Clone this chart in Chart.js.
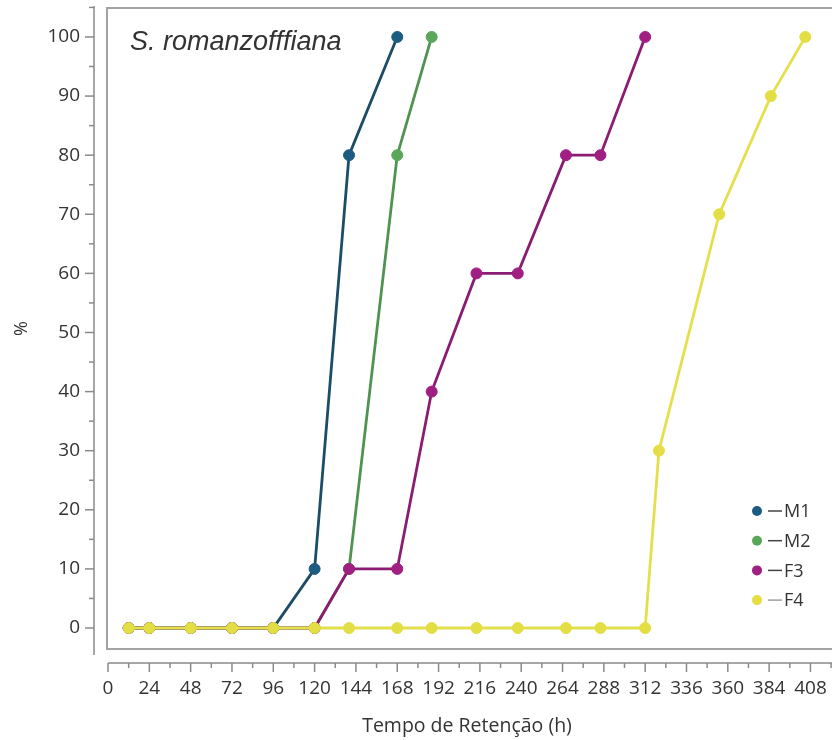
<!DOCTYPE html>
<html>
<head>
<meta charset="utf-8">
<script src="https://cdn.jsdelivr.net/npm/chart.js@4.4.1/dist/chart.umd.min.js"></script>
<style>
html,body{margin:0;padding:0;background:#fff;overflow:hidden;}
#wrap{width:860px;height:740px;}
</style>
</head>
<body>
<div id="wrap"><canvas id="retentionChart" width="860" height="740"></canvas></div>
<script>
/* ===========================
   DATA
=========================== */
const hours = [12,24,48,72,96,120,140,168,188,214,238,266,286,312,320,355,385,405];

const seriesNames = ["M1","M2","F3","F4"];

const m1 = [0,0,0,0,0,10,80,100];
const m2 = [0,0,0,0,0,0,10,80,100];
const f3 = [0,0,0,0,0,0,10,10,40,60,60,80,80,100];
const f4 = [0,0,0,0,0,0,0,0,0,0,0,0,0,0,30,70,90,100];

const xTickValues = [0,24,48,72,96,120,144,168,192,216,240,264,288,312,336,360,384,408];
const yTickValues = [0,10,20,30,40,50,60,70,80,90,100];

const chartTitle = "S. romanzofffiana";
const xTitle = "Tempo de Retenção (h)";
const yTitle = "%";

/* ===========================
   STYLE
=========================== */
const lineColors  = ["#1d4d66","#4f9350","#8c1c73","#e4e04c"];
const pointColors = ["#1b5c80","#5aa75a","#a01f82","#e2de44"];
const FONT = "'Open Sans', 'Noto Sans', sans-serif";

function toPoints(values){
    return values.map((v,i) => ({x:hours[i], y:v}));
}

const allSeries = [m1,m2,f3,f4];

/* ===========================
   FRAME + AXES PLUGIN
=========================== */
const frameAxes = {
    id:"frameAxes",
    beforeDatasetsDraw(chart){
        const ctx = chart.ctx;
        const area = chart.chartArea;
        const xs = chart.scales.x;
        const ys = chart.scales.y;
        const right = chart.width;

        ctx.save();

        // plot frame (no right edge, it runs off the picture)
        ctx.strokeStyle = "#a3a3a3";
        ctx.lineWidth = 2;
        ctx.beginPath();
        ctx.moveTo(right, area.top);
        ctx.lineTo(area.left - 1, area.top);
        ctx.lineTo(area.left - 1, area.bottom);
        ctx.lineTo(right, area.bottom);
        ctx.stroke();

        // y axis
        ctx.strokeStyle = "#8a8a8a";
        ctx.lineWidth = 1.5;
        const yAxisX = area.left - 14;
        ctx.beginPath();
        ctx.moveTo(yAxisX, area.top - 2);
        ctx.lineTo(yAxisX, area.bottom + 6);
        ctx.stroke();
        for(let v = -5; v <= 105; v += 5){
            const py = ys.getPixelForValue(v);
            if(py < area.top - 2 || py > area.bottom + 6) continue;
            const len = (v % 10 === 0) ? 9 : 5;
            ctx.beginPath();
            ctx.moveTo(yAxisX - len, py);
            ctx.lineTo(yAxisX, py);
            ctx.stroke();
        }

        // x axis
        const xAxisY = area.bottom + 14;
        ctx.beginPath();
        ctx.moveTo(xs.getPixelForValue(0), xAxisY);
        ctx.lineTo(right, xAxisY);
        ctx.stroke();
        for(let v = 0; v <= 432; v += 12){
            const px = xs.getPixelForValue(v);
            const len = (v % 24 === 0) ? 9 : 5;
            ctx.beginPath();
            ctx.moveTo(px, xAxisY);
            ctx.lineTo(px, xAxisY + len);
            ctx.stroke();
        }

        ctx.restore();
    },
    afterDraw(chart){
        const ctx = chart.ctx;
        ctx.save();

        // species name
        ctx.fillStyle = "#333";
        ctx.font = "italic 27px 'Liberation Sans', Arial, sans-serif";
        ctx.textAlign = "left";
        ctx.textBaseline = "alphabetic";
        ctx.fillText(chartTitle, 130, 50);

        // x axis title (sits a little left of the plot centre)
        ctx.font = "19.5px " + FONT;
        ctx.textAlign = "center";
        ctx.textBaseline = "middle";
        ctx.fillText(xTitle, 467, 726);

        // legend
        ctx.font = "18px " + FONT;
        ctx.textAlign = "left";
        chart.data.datasets.forEach((ds,i) => {
            const y = 511 + i * 29.7;
            ctx.fillStyle = ds.pointBackgroundColor;
            ctx.beginPath();
            ctx.arc(757, y, 5, 0, Math.PI * 2);
            ctx.fill();
            ctx.strokeStyle = i === 3 ? "#a0a0a0" : "#444";
            ctx.lineWidth = 1.5;
            ctx.beginPath();
            ctx.moveTo(768, y);
            ctx.lineTo(782, y);
            ctx.stroke();
            ctx.fillStyle = "#333";
            ctx.fillText(ds.label, 784, y + 1);
        });

        ctx.restore();
    }
};

/* ===========================
   CHART
=========================== */
const canvas = document.getElementById("retentionChart");

const retentionChart = new Chart(canvas,{

    type:"line",

    data:{
        datasets: allSeries.map((values,i) => ({
            label:seriesNames[i],
            data:toPoints(values),
            borderColor:lineColors[i],
            backgroundColor:pointColors[i],
            pointBackgroundColor:pointColors[i],
            pointBorderColor:pointColors[i],
            pointRadius:5.5,
            pointBorderWidth:1,
            borderWidth:2.8,
            tension:0,
            fill:false,
            order:3 - i
        }))
    },

    options:{
        responsive:false,
        animation:false,
        layout:{
            padding:{ top:8, left:0, right:0, bottom:0 }
        },
        plugins:{
            legend:{ display:false },
            tooltip:{ enabled:false }
        },
        scales:{
            x:{
                type:"linear",
                min:0,
                max:433,
                afterFit(scale){
                    scale.height = 91;
                    scale.paddingLeft = 0;
                    scale.paddingRight = 0;
                },
                afterBuildTicks(scale){ scale.ticks = xTickValues.map(v => ({value:v})); },
                grid:{ display:false, drawTicks:false },
                border:{ display:false },
                ticks:{
                    autoSkip:false,
                    maxRotation:0,
                    padding:28,
                    color:"#333",
                    font:{ family:FONT, size:19 }
                },
                title:{ display:false }
            },
            y:{
                min:-3.55,
                max:104.9,
                afterFit(scale){
                    scale.width = 108;
                    scale.paddingTop = 0;
                    scale.paddingBottom = 0;
                },
                afterBuildTicks(scale){ scale.ticks = yTickValues.map(v => ({value:v})); },
                grid:{ display:false, drawTicks:false },
                border:{ display:false },
                ticks:{
                    padding:28,
                    color:"#333",
                    font:{ family:FONT, size:19 }
                },
                title:{
                    display:true,
                    text:yTitle,
                    color:"#333",
                    font:{ family:FONT, size:18 },
                    padding:{ top:11, bottom:0 }
                }
            }
        }
    },

    plugins:[frameAxes]

});
</script>
</body>
</html>
